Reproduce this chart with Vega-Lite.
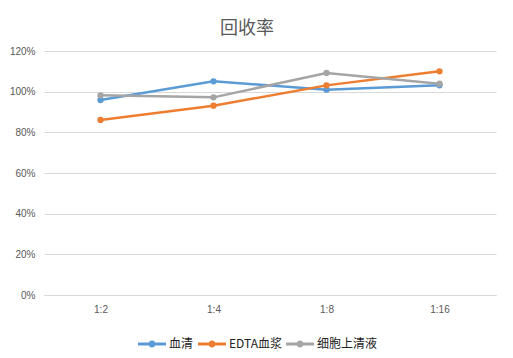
{
  "$schema": "https://vega.github.io/schema/vega-lite/v6.json",
  "autosize": "none",
  "width": 452,
  "height": 244,
  "padding": {"left": 44, "top": 51, "right": 17, "bottom": 63},
  "background": "white",
  "title": {"text": "回收率", "fontSize": 18, "font": "Noto Sans CJK SC", "fontWeight": "normal", "color": "#595959", "offset": 8, "dx": -23},
  "data": {"values": [
    {"ratio": "1:2", "series": "血清", "value": 0.959},
    {"ratio": "1:4", "series": "血清", "value": 1.051},
    {"ratio": "1:8", "series": "血清", "value": 1.01},
    {"ratio": "1:16", "series": "血清", "value": 1.031},
    {"ratio": "1:2", "series": "EDTA血浆", "value": 0.861},
    {"ratio": "1:4", "series": "EDTA血浆", "value": 0.931},
    {"ratio": "1:8", "series": "EDTA血浆", "value": 1.031},
    {"ratio": "1:16", "series": "EDTA血浆", "value": 1.10},
    {"ratio": "1:2", "series": "细胞上清液", "value": 0.982},
    {"ratio": "1:4", "series": "细胞上清液", "value": 0.972},
    {"ratio": "1:8", "series": "细胞上清液", "value": 1.092},
    {"ratio": "1:16", "series": "细胞上清液", "value": 1.039}
  ]},
  "mark": {"type": "line", "strokeWidth": 2.5, "point": {"size": 40, "filled": true}},
  "encoding": {
    "x": {"field": "ratio", "type": "ordinal", "sort": ["1:2", "1:4", "1:8", "1:16"],
      "scale": {"paddingInner": 0, "paddingOuter": 0},
      "axis": {"title": null, "labelAngle": 0, "ticks": false, "domainColor": "#D9D9D9", "labelColor": "#595959", "labelFontSize": 10, "labelFont": "Liberation Sans", "labelPadding": 9}},
    "y": {"field": "value", "type": "quantitative",
      "scale": {"domain": [0, 1.2]},
      "axis": {"title": null, "format": ".0%", "values": [0, 0.2, 0.4, 0.6, 0.8, 1.0, 1.2], "domain": false, "ticks": false, "gridColor": "#D9D9D9", "labelColor": "#595959", "labelFontSize": 10, "labelFont": "Liberation Sans", "labelPadding": 9}},
    "color": {"field": "series", "type": "nominal",
      "scale": {"domain": ["血清", "EDTA血浆", "细胞上清液"], "range": ["#5B9BD5", "#ED7D31", "#A5A5A5"]},
      "legend": {"title": null, "orient": "none", "direction": "horizontal", "legendX": 94, "legendY": 279,
        "symbolType": "M-1,-0.1L1,-0.1L1,0.1L-1,0.1Z M0.25,0A0.25,0.25 0 1,1 -0.25,0A0.25,0.25 0 1,1 0.25,0Z",
        "symbolSize": 784, "symbolStrokeWidth": 0, "labelFont": "Noto Sans CJK SC", "labelFontSize": 12, "labelColor": "#222", "labelOffset": 3, "columnPadding": 4}}
  },
  "config": {"view": {"stroke": null}}
}
